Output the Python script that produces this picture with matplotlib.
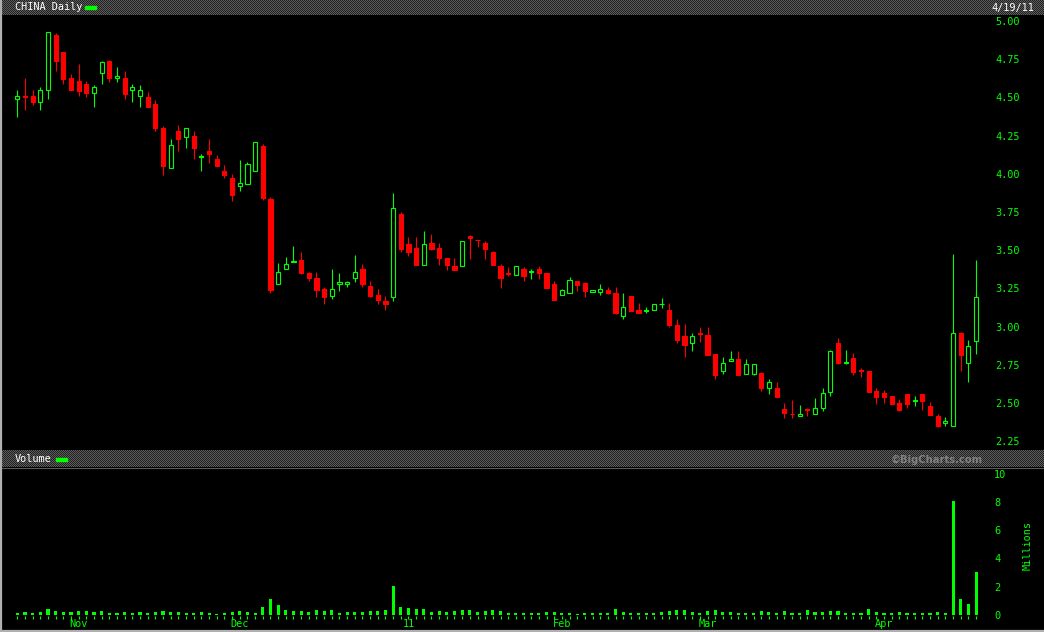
import numpy as np
import matplotlib
matplotlib.use('Agg')
import matplotlib.pyplot as plt
from matplotlib.transforms import blended_transform_factory

# Daily prices, Oct 20 2010 .. Apr 19 2011 (one entry per trading day)
opens = [4.49, 4.51, 4.51, 4.47, 4.55, 4.91, 4.80, 4.63, 4.61, 4.59,
         4.53, 4.66, 4.74, 4.63, 4.63, 4.55, 4.51, 4.50, 4.46, 4.30,
         4.035, 4.28, 4.24, 4.25, 4.11, 4.15, 4.10, 4.02, 3.97, 3.92,
         3.935, 4.02, 4.18, 3.835, 3.28, 3.375, 3.425, 3.435, 3.35, 3.32,
         3.245, 3.20, 3.28, 3.28, 3.315, 3.375, 3.265, 3.205, 3.17, 3.195,
         3.735, 3.54, 3.515, 3.405, 3.545, 3.515, 3.45, 3.395, 3.395, 3.59,
         3.57, 3.545, 3.49, 3.395, 3.35, 3.335, 3.375, 3.36, 3.375, 3.35,
         3.28, 3.205, 3.22, 3.30, 3.285, 3.225, 3.225, 3.24, 3.22, 3.07,
         3.20, 3.11, 3.105, 3.11, 3.145, 3.11, 3.01, 2.94, 2.895, 2.955,
         2.945, 2.82, 2.71, 2.775, 2.785, 2.69, 2.69, 2.695, 2.595, 2.595,
         2.46, 2.43, 2.415, 2.46, 2.425, 2.465, 2.575, 2.895, 2.765, 2.795,
         2.715, 2.71, 2.58, 2.565, 2.545, 2.50, 2.56, 2.515, 2.56, 2.48,
         2.415, 2.37, 2.35, 2.96, 2.765, 2.905]
highs = [4.55, 4.63, 4.55, 4.57, 4.93, 4.92, 4.80, 4.65, 4.72, 4.61,
         4.58, 4.74, 4.745, 4.70, 4.67, 4.59, 4.58, 4.535, 4.48, 4.31,
         4.23, 4.32, 4.30, 4.28, 4.13, 4.23, 4.12, 4.06, 4.00, 4.09,
         4.08, 4.21, 4.195, 3.85, 3.415, 3.455, 3.53, 3.49, 3.355, 3.355,
         3.26, 3.375, 3.35, 3.30, 3.47, 3.41, 3.30, 3.245, 3.20, 3.875,
         3.75, 3.585, 3.585, 3.625, 3.605, 3.545, 3.45, 3.45, 3.56, 3.60,
         3.57, 3.56, 3.495, 3.41, 3.39, 3.395, 3.39, 3.375, 3.395, 3.35,
         3.30, 3.245, 3.325, 3.30, 3.285, 3.24, 3.28, 3.26, 3.26, 3.22,
         3.20, 3.155, 3.13, 3.15, 3.185, 3.155, 3.05, 3.015, 2.96, 3.00,
         3.00, 2.82, 2.80, 2.84, 2.84, 2.79, 2.755, 2.705, 2.66, 2.635,
         2.50, 2.52, 2.485, 2.465, 2.535, 2.595, 2.845, 2.925, 2.845, 2.825,
         2.73, 2.71, 2.60, 2.585, 2.545, 2.525, 2.56, 2.545, 2.56, 2.505,
         2.43, 2.41, 3.475, 2.965, 2.915, 3.435]
lows = [4.37, 4.42, 4.45, 4.42, 4.49, 4.67, 4.59, 4.55, 4.51, 4.50,
        4.44, 4.59, 4.60, 4.60, 4.49, 4.47, 4.44, 4.44, 4.28, 3.99,
        4.035, 4.15, 4.17, 4.10, 4.02, 4.07, 4.05, 3.975, 3.82, 3.89,
        3.935, 4.02, 3.83, 3.22, 3.28, 3.375, 3.425, 3.345, 3.30, 3.195,
        3.15, 3.18, 3.235, 3.26, 3.295, 3.26, 3.195, 3.15, 3.11, 3.165,
        3.49, 3.465, 3.405, 3.405, 3.50, 3.405, 3.37, 3.37, 3.395, 3.445,
        3.52, 3.445, 3.405, 3.255, 3.33, 3.335, 3.30, 3.31, 3.31, 3.25,
        3.175, 3.205, 3.22, 3.235, 3.195, 3.225, 3.205, 3.215, 3.08, 3.05,
        3.10, 3.09, 3.09, 3.11, 3.12, 3.00, 2.895, 2.80, 2.84, 2.90,
        2.815, 2.655, 2.69, 2.775, 2.685, 2.69, 2.68, 2.58, 2.56, 2.54,
        2.405, 2.405, 2.415, 2.415, 2.425, 2.445, 2.545, 2.755, 2.755, 2.685,
        2.67, 2.575, 2.495, 2.50, 2.495, 2.445, 2.465, 2.48, 2.455, 2.42,
        2.345, 2.35, 2.35, 2.71, 2.635, 2.82]
closes = [4.51, 4.50, 4.47, 4.55, 4.93, 4.74, 4.62, 4.55, 4.54, 4.53,
          4.57, 4.73, 4.63, 4.64, 4.52, 4.57, 4.55, 4.44, 4.30, 4.05,
          4.19, 4.23, 4.30, 4.17, 4.115, 4.13, 4.05, 3.99, 3.86, 3.94,
          4.065, 4.205, 3.84, 3.24, 3.355, 3.41, 3.43, 3.35, 3.32, 3.24,
          3.195, 3.245, 3.295, 3.295, 3.355, 3.28, 3.20, 3.175, 3.15, 3.775,
          3.505, 3.49, 3.405, 3.54, 3.51, 3.45, 3.405, 3.37, 3.56, 3.58,
          3.565, 3.505, 3.405, 3.32, 3.345, 3.395, 3.33, 3.365, 3.35, 3.255,
          3.175, 3.24, 3.305, 3.27, 3.235, 3.24, 3.245, 3.22, 3.09, 3.13,
          3.10, 3.09, 3.11, 3.15, 3.15, 3.01, 2.915, 2.88, 2.94, 2.95,
          2.815, 2.685, 2.765, 2.785, 2.685, 2.755, 2.755, 2.595, 2.635, 2.54,
          2.435, 2.425, 2.425, 2.457, 2.465, 2.565, 2.84, 2.76, 2.77, 2.705,
          2.71, 2.575, 2.54, 2.54, 2.495, 2.455, 2.495, 2.52, 2.515, 2.42,
          2.35, 2.385, 2.955, 2.815, 2.875, 3.195]
# Volume in millions of shares
volumes = [0.14, 0.19, 0.14, 0.19, 0.40, 0.26, 0.19, 0.19, 0.26, 0.26,
           0.19, 0.26, 0.12, 0.12, 0.19, 0.12, 0.19, 0.14, 0.19, 0.26,
           0.19, 0.19, 0.12, 0.12, 0.19, 0.12, 0.03, 0.14, 0.19, 0.26,
           0.19, 0.14, 0.55, 1.11, 0.69, 0.33, 0.26, 0.26, 0.19, 0.33,
           0.26, 0.33, 0.14, 0.19, 0.19, 0.19, 0.26, 0.26, 0.33, 2.04,
           0.55, 0.47, 0.40, 0.40, 0.19, 0.26, 0.19, 0.26, 0.33, 0.33,
           0.19, 0.26, 0.33, 0.26, 0.14, 0.14, 0.14, 0.14, 0.14, 0.19,
           0.19, 0.14, 0.14, 0.03, 0.14, 0.14, 0.14, 0.14, 0.40, 0.19,
           0.14, 0.14, 0.14, 0.14, 0.19, 0.26, 0.33, 0.33, 0.19, 0.14,
           0.26, 0.33, 0.19, 0.19, 0.14, 0.14, 0.14, 0.26, 0.19, 0.14,
           0.26, 0.14, 0.14, 0.33, 0.19, 0.19, 0.26, 0.26, 0.14, 0.14,
           0.14, 0.40, 0.19, 0.14, 0.14, 0.19, 0.14, 0.14, 0.14, 0.14,
           0.19, 0.14, 8.08, 1.11, 0.76, 3.03]

# Month labels sit under the first trading day of each month
month_labels = ['Nov', 'Dec', '11', 'Feb', 'Mar', 'Apr']
month_index = [8, 29, 51, 71, 90, 113]
price_ticks = [2.25, 2.50, 2.75, 3.00, 3.25, 3.50, 3.75, 4.00, 4.25, 4.50, 4.75, 5.00]
volume_ticks = [0, 2, 4, 6, 8, 10]

GREEN = '#00ff00'
RED = '#ff0000'
MONO = 'DejaVu Sans Mono'
W, H = 1044, 632

fig = plt.figure(figsize=(W / 100, H / 100), dpi=100, facecolor='black')


def px_axes(left, top, right, bottom):
    # axes placed by pixel edges (top-left origin)
    return fig.add_axes([left / W, 1 - bottom / H, (right - left) / W, (bottom - top) / H])


# background layer: header bands, borders and titles
bg = fig.add_axes([0, 0, 1, 1])
bg.set_facecolor('black')

def dotted_band(y0, y1):
    rows = int(y1 - y0)
    checker = np.indices((rows, W)).sum(axis=0) % 2
    img = np.where(checker == 1, 0.36, 0.13)
    bg.imshow(img, cmap='gray', vmin=0, vmax=1, extent=(0, W, y1, y0),
              interpolation='nearest', aspect='auto')

dotted_band(0, 15)
dotted_band(450, 467)
bg.set_xlim(0, W)
bg.set_ylim(H, 0)
bg.axis('off')
bg.plot([0, W], [467.5, 467.5], color='#5a5a5a', lw=0.8)
bg.plot([1, 1], [0, H], color='#b0b0b0', lw=1.6)
bg.plot([0, W], [630.5, 630.5], color='#b0b0b0', lw=1.6)

bg.text(15, 7.5, 'CHINA Daily', color='white', family=MONO, fontsize=7.4, va='center', ha='left')
bg.add_patch(plt.Rectangle((85, 5.5), 11, 3, color=GREEN))
bg.text(1034, 7.5, '4/19/11', color='white', family=MONO, fontsize=7.4, va='center', ha='right')
bg.text(15, 459.5, 'Volume', color='white', family=MONO, fontsize=7.4, va='center', ha='left')
bg.add_patch(plt.Rectangle((56, 458), 11, 3, color=GREEN))
bg.text(983, 459.5, '\u00a9BigCharts.com', color='#808080', fontsize=7.2,
        fontweight='bold', va='center', ha='right')
bg.text(1028, 546, 'Millions', color=GREEN, family=MONO, fontsize=7.4,
        rotation=90, va='center', ha='center')

x = np.arange(len(closes))
o = np.array(opens)
h = np.array(highs)
l = np.array(lows)
c = np.array(closes)
up = c >= o
colors = np.where(up, GREEN, RED)
doji = np.abs(c - o) < 0.008

# price panel
ax = px_axes(3, 16, 985, 450)
ax.set_facecolor('none')
ax.set_xlim(-(17.3 - 3) / 7.67, (985 - 17.3) / 7.67)
ax.set_ylim(5 - (450 - 21) / 152.8, 5 - (16 - 21) / 152.8)
ax.vlines(x, l, h, colors=colors, linewidth=0.8, zorder=2)
faces = np.where(up & ~doji, 'black', colors)
ax.bar(x, np.maximum(np.abs(c - o), 0.004), bottom=np.minimum(o, c), width=0.55,
       color=faces, edgecolor=colors, linewidth=0.8, zorder=3)
ax.yaxis.tick_right()
ax.set_yticks(price_ticks)
ax.set_yticklabels([f'{v:.2f}' for v in price_ticks])
ax.set_xticks([])
ax.tick_params(axis='y', length=0, pad=7.2, labelcolor=GREEN, labelsize=7.4)
for lab in ax.get_yticklabels():
    lab.set_family(MONO)
for s in ax.spines.values():
    s.set_visible(False)

# volume panel
axv = px_axes(3, 468, 985, 620)
axv.set_facecolor('none')
axv.set_xlim(ax.get_xlim())
axv.set_ylim(-(620 - 614.7) / 14.07, (614.7 - 468) / 14.07)
axv.bar(x, volumes, width=0.4, color=GREEN, linewidth=0)
axv.vlines(x, -0.34, -0.1, colors=GREEN, linewidth=0.8)
axv.yaxis.tick_right()
axv.set_yticks(volume_ticks)
axv.set_yticklabels([str(v) for v in volume_ticks])
axv.set_xticks([])
axv.tick_params(axis='y', length=0, pad=6.5, labelcolor=GREEN, labelsize=7.4)
for lab in axv.get_yticklabels():
    lab.set_family(MONO)
for s in axv.spines.values():
    s.set_visible(False)

trans = blended_transform_factory(axv.transData, axv.transAxes)
for lab, idx in zip(month_labels, month_index):
    axv.text(idx, -4 / 152, lab, transform=trans, color=GREEN, family=MONO,
             fontsize=7.4, ha='center', va='center', clip_on=False)

fig.savefig('out.png', dpi=100, facecolor='black')
